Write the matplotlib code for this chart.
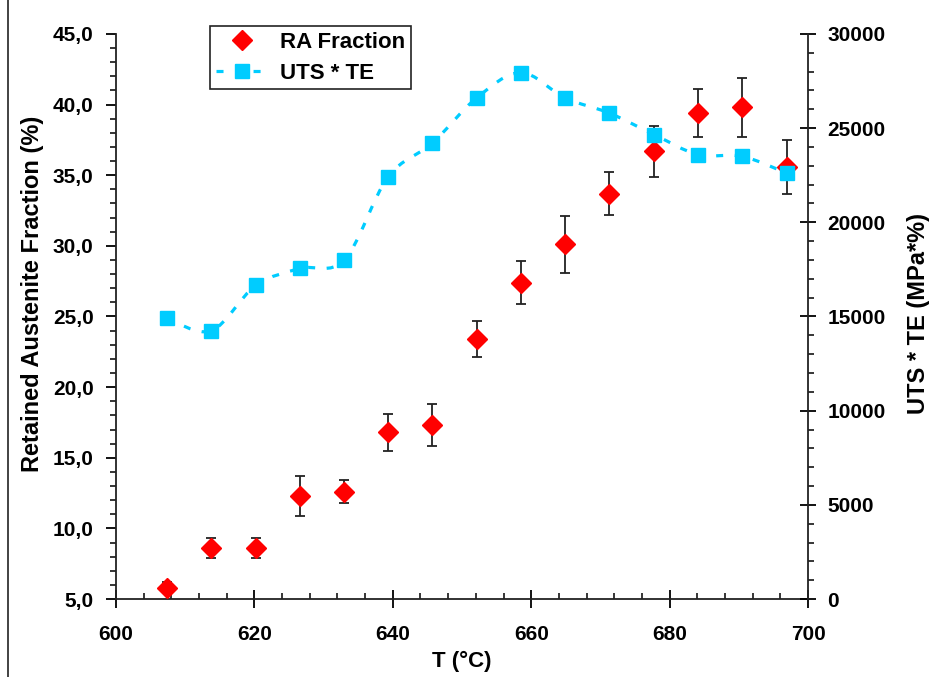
import numpy as np
import matplotlib
matplotlib.use("Agg")
import matplotlib.pyplot as plt
from matplotlib.path import Path
from matplotlib.patches import PathPatch
from matplotlib.lines import Line2D
from matplotlib.ticker import MultipleLocator, FuncFormatter

plt.rcParams["font.family"] = ["Liberation Sans", "DejaVu Sans"]
plt.rcParams["font.weight"] = "bold"

# temperatures of the samples (deg C)
temp = [607.4, 613.8, 620.2, 626.6, 633.0, 639.3, 645.7, 652.1,
        658.5, 664.9, 671.3, 677.8, 684.1, 690.5, 697.0]
# retained austenite fraction (%) and its error
ra_frac = [5.8, 8.6, 8.6, 12.3, 12.6, 16.8, 17.3, 23.4,
           27.4, 30.1, 33.7, 36.7, 39.4, 39.8, 35.6]
ra_err = [0.4, 0.7, 0.7, 1.4, 0.8, 1.3, 1.5, 1.3,
          1.5, 2.0, 1.5, 1.8, 1.7, 2.1, 1.9]
# UTS * TE (MPa*%)
uts_te = [14900, 14250, 16650, 17550, 18000, 22400, 24200, 26600,
          27950, 26600, 25800, 24650, 23600, 23500, 22600]

RED = "#FF0000"
CYAN = "#00CCFF"

fig = plt.figure(figsize=(9.39, 6.77), dpi=100)
ax = fig.add_axes([0.1235, 0.1152, 0.737, 0.8346])
ax2 = ax.twinx()

# red diamonds with error bars on the left axis
ax.errorbar(temp, ra_frac, yerr=ra_err, fmt="none", ecolor="#222222",
            elinewidth=1.3, capsize=3.5, capthick=1.3, zorder=2)
ax.plot(temp, ra_frac, linestyle="none", marker="D", ms=10,
        color=RED, mec=RED, zorder=3)

# smoothed dashed line (Catmull-Rom style, like a spreadsheet "smoothed line")
pts = np.column_stack([temp, uts_te]).astype(float)
verts = [pts[0]]
codes = [Path.MOVETO]
n = len(pts)
for i in range(n - 1):
    p0 = pts[i - 1] if i > 0 else pts[i]
    p1 = pts[i]
    p2 = pts[i + 1]
    p3 = pts[i + 2] if i + 2 < n else pts[i + 1]
    c1 = p1 + (p2 - p0) / 6.0
    c2 = p2 - (p3 - p1) / 6.0
    verts += [c1, c2, p2]
    codes += [Path.CURVE4] * 3
curve = PathPatch(Path(verts, codes), fill=False, edgecolor=CYAN, lw=2.3,
                  linestyle=(0, (2.2, 3.6)), transform=ax2.transData, zorder=2)
ax2.add_patch(curve)
ax2.plot(temp, uts_te, linestyle="none", marker="s", ms=10.5,
         color=CYAN, mec=CYAN, zorder=3)

# axes ranges and ticks
ax.set_xlim(600, 700)
ax.set_ylim(5, 45)
ax2.set_ylim(0, 30000)

ax.xaxis.set_major_locator(MultipleLocator(20))
ax.xaxis.set_minor_locator(MultipleLocator(4))
ax.yaxis.set_major_locator(MultipleLocator(5))
ax.yaxis.set_minor_locator(MultipleLocator(1))
ax2.yaxis.set_major_locator(MultipleLocator(5000))
ax2.yaxis.set_minor_locator(MultipleLocator(1000))
ax.yaxis.set_major_formatter(FuncFormatter(lambda v, p: f"{v:.1f}".replace(".", ",")))

ax.tick_params(axis="x", which="major", direction="inout", length=13, width=1.3,
               labelsize=15, pad=12)
ax.tick_params(axis="x", which="minor", direction="in", length=4, width=1.1)
ax.tick_params(axis="y", which="major", direction="out", length=7, width=1.3,
               labelsize=15, pad=9)
ax.tick_params(axis="y", which="minor", direction="out", length=4, width=1.1)
ax2.tick_params(axis="y", which="major", direction="inout", length=12, width=1.3,
                labelsize=15, pad=8)
ax2.tick_params(axis="y", which="minor", direction="out", length=4, width=1.1)

for a in (ax, ax2):
    a.spines["top"].set_visible(False)
    for s in ("left", "right", "bottom"):
        a.spines[s].set_linewidth(1.3)
        a.spines[s].set_color("#222222")
ax.spines["right"].set_visible(False)
ax2.spines["left"].set_visible(False)
ax2.spines["bottom"].set_visible(False)

ax.set_xlabel("T (°C)", fontsize=16, fontweight="bold", labelpad=5)
ax.set_ylabel("Retained Austenite Fraction (%)", fontsize=17, fontweight="bold")
ax.yaxis.set_label_coords(-0.104, 0.54)
ax2.set_ylabel("UTS * TE (MPa*%)", fontsize=17, fontweight="bold")
ax2.yaxis.set_label_coords(1.143, 0.505)

# legend
handles = [
    Line2D([], [], linestyle="none", marker="D", ms=10, color=RED),
    Line2D([], [], color=CYAN, lw=2.3, linestyle=(0, (2.2, 3.6)),
           marker="s", ms=10),
]
leg = ax2.legend(handles, ["RA Fraction", "UTS * TE"], loc="upper left",
                 bbox_to_anchor=(0.2236, 0.9616), bbox_transform=fig.transFigure,
                 prop={"size": 16, "weight": "bold"}, frameon=True, fancybox=False,
                 framealpha=1, edgecolor="#222222", handlelength=2.4,
                 handletextpad=0.5, borderpad=0.25, labelspacing=0.45,
                 borderaxespad=0)
leg.get_frame().set_linewidth(1.2)

# left border line of the original frame
fig.add_artist(Line2D([8 / 939, 8 / 939], [0, 1], transform=fig.transFigure,
                      color="#222222", lw=1.2))

fig.savefig("out.png", dpi=100)
